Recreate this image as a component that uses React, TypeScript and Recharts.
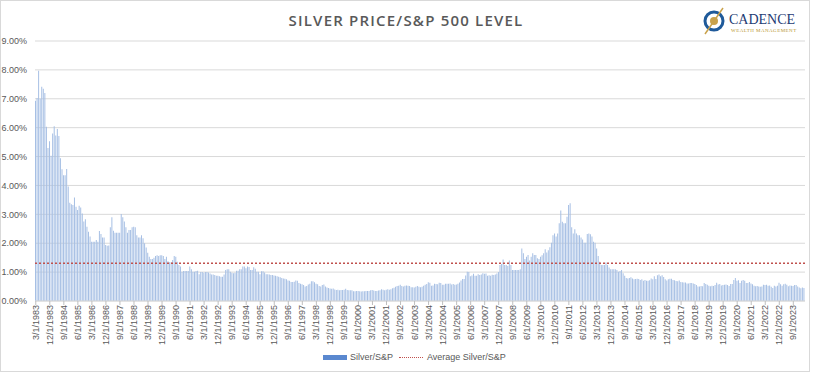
import React from 'react';
import { BarChart, Bar, XAxis, YAxis, CartesianGrid, ReferenceLine } from 'recharts';

const START_YEAR = 1983;
const START_MONTH = 3;

// Monthly Silver / S&P 500 ratio, in percent (Mar 1983 onward)
const ratio1980s = [
  6.93, 7.03, 7.97, 7.0, 7.42, 7.35, 7.2, 6.03, 5.3, 5.53,
  5.03, 5.8, 6.05, 5.73, 5.95, 5.71, 4.94, 4.56, 4.35, 4.35, 4.57, 3.96,
  3.4, 3.35, 3.32, 3.58, 3.26, 3.15, 3.3, 3.24, 3.03, 2.75, 2.83, 2.57,
  2.4, 2.23, 2.05, 2.05, 2.05, 2.11, 2.05, 2.42, 2.32, 2.2, 2.2, 1.94,
  1.91, 1.92, 2.55, 2.9, 2.43, 2.36, 2.36, 2.36, 2.36, 3.01, 2.9, 2.75,
  2.55, 2.36, 2.46, 2.46, 2.55, 2.57, 2.55, 2.28, 2.2, 2.2, 2.28, 2.17,
  2.0, 1.85, 1.67, 1.53, 1.45, 1.45, 1.5, 1.56, 1.58, 1.56, 1.58, 1.58,
];
const ratio1990s = [
  1.56, 1.45, 1.53, 1.38, 1.34, 1.34, 1.42, 1.56, 1.53, 1.36, 1.25, 1.19,
  1.01, 1.04, 1.04, 1.04, 1.04, 1.19, 1.1, 1.01, 1.01, 1.04, 1.05, 0.93,
  1.0, 1.0, 0.98, 1.0, 1.0, 0.99, 0.95, 0.92, 0.92, 0.9, 0.87, 0.87,
  0.86, 0.84, 0.84, 0.92, 1.07, 1.1, 1.1, 1.01, 0.98, 0.96, 0.98, 1.05,
  1.05, 1.1, 1.1, 1.19, 1.19, 1.13, 1.19, 1.18, 1.07, 1.07, 1.17, 1.12,
  1.01, 1.01, 0.93, 1.03, 1.03, 0.99, 0.93, 0.93, 0.92, 0.9, 0.9, 0.88,
  0.87, 0.86, 0.84, 0.82, 0.8, 0.78, 0.77, 0.75, 0.71, 0.7, 0.66, 0.66,
  0.67, 0.71, 0.7, 0.62, 0.6, 0.58, 0.55, 0.5, 0.52, 0.57, 0.6, 0.68,
  0.68, 0.65, 0.6, 0.58, 0.52, 0.5, 0.55, 0.57, 0.5, 0.47, 0.45, 0.43,
  0.42, 0.43, 0.4, 0.38, 0.39, 0.37, 0.38, 0.38, 0.39, 0.42, 0.38, 0.37,
];
const ratio2000s = [
  0.37, 0.37, 0.34, 0.34, 0.35, 0.35, 0.34, 0.33, 0.34, 0.34, 0.35, 0.35,
  0.35, 0.37, 0.38, 0.36, 0.35, 0.35, 0.36, 0.37, 0.41, 0.39, 0.37, 0.39,
  0.41, 0.39, 0.41, 0.44, 0.46, 0.49, 0.52, 0.53, 0.56, 0.52, 0.5, 0.53,
  0.54, 0.53, 0.52, 0.48, 0.48, 0.47, 0.49, 0.52, 0.49, 0.48, 0.49, 0.53,
  0.56, 0.59, 0.65, 0.63, 0.53, 0.54, 0.6, 0.59, 0.58, 0.63, 0.62, 0.56,
  0.56, 0.6, 0.6, 0.6, 0.61, 0.57, 0.59, 0.56, 0.57, 0.6, 0.64, 0.71,
  0.76, 0.76, 0.88, 1.01, 1.0, 0.86, 0.88, 0.94, 0.87, 0.87, 0.93, 0.9,
  0.92, 0.96, 0.94, 0.95, 0.87, 0.89, 0.87, 0.91, 0.9, 0.92, 0.95, 1.0,
  1.25, 1.28, 1.44, 1.25, 1.25, 1.21, 1.4, 1.25, 1.07, 1.07, 1.07, 1.07,
  1.07, 1.1, 1.82, 1.65, 1.45, 1.53, 1.59, 1.4, 1.53, 1.65, 1.59, 1.59,
];
const ratio2010s = [
  1.48, 1.45, 1.53, 1.58, 1.65, 1.79, 1.68, 1.76, 1.86, 2.02, 2.28, 2.34,
  2.23, 2.34, 2.69, 3.13, 2.74, 2.69, 2.69, 2.92, 3.32, 3.38, 2.55, 2.34,
  2.48, 2.34, 2.28, 2.28, 2.2, 2.13, 2.02, 2.02, 2.32, 2.34, 2.31, 2.23,
  2.05, 2.02, 1.82, 1.56, 1.36, 1.25, 1.25, 1.25, 1.33, 1.25, 1.16, 1.1,
  1.1, 1.1, 1.1, 1.07, 1.01, 1.04, 1.07, 0.96, 0.87, 0.8, 0.78, 0.8,
  0.82, 0.78, 0.75, 0.76, 0.77, 0.76, 0.73, 0.75, 0.7, 0.73, 0.7, 0.7,
  0.72, 0.78, 0.75, 0.86, 0.76, 0.89, 0.92, 0.86, 0.89, 0.83, 0.75, 0.71,
  0.75, 0.77, 0.77, 0.73, 0.72, 0.69, 0.68, 0.71, 0.66, 0.65, 0.64, 0.64,
  0.61, 0.61, 0.62, 0.62, 0.61, 0.59, 0.55, 0.5, 0.5, 0.52, 0.51, 0.62,
  0.59, 0.56, 0.53, 0.51, 0.53, 0.52, 0.55, 0.63, 0.57, 0.59, 0.54, 0.55,
];
const ratio2020s = [
  0.56, 0.57, 0.55, 0.52, 0.59, 0.59, 0.73, 0.8, 0.7, 0.72, 0.62, 0.7,
  0.73, 0.7, 0.62, 0.62, 0.66, 0.61, 0.58, 0.53, 0.51, 0.52, 0.5, 0.49,
  0.5, 0.56, 0.55, 0.56, 0.53, 0.54, 0.49, 0.45, 0.53, 0.5, 0.53, 0.63,
  0.58, 0.53, 0.58, 0.6, 0.56, 0.51, 0.54, 0.53, 0.52, 0.55, 0.55, 0.5,
  0.47, 0.44, 0.47, 0.45,
];

const silverSp = [...ratio1980s, ...ratio1990s, ...ratio2000s, ...ratio2010s, ...ratio2020s];
const AVERAGE = 1.31;
const yTicks = [0, 1, 2, 3, 4, 5, 6, 7, 8, 9];

const categories = silverSp.map((_, i) => {
  const m = START_MONTH - 1 + i;
  return `${(m % 12) + 1}/1/${START_YEAR + Math.floor(m / 12)}`;
});
const data = categories.map((date, i) => ({ date, value: silverSp[i] }));

const FONT = '"Liberation Sans Narrow", "Liberation Sans", Arial, sans-serif';
const GRAY = '#595959';

const XTick = (props: any) => {
  const { x, y, payload } = props;
  return (
    <text
      x={x}
      y={y}
      transform={`rotate(-90, ${x}, ${y})`}
      textAnchor="end"
      dy="0.33em"
      fontSize={9}
      fill={GRAY}
      fontFamily={FONT}
    >
      {payload.value}
    </text>
  );
};

export default function App() {
  return (
    <div style={{ position: 'absolute', left: 0, top: 0, width: 814, height: 373, background: '#fff', fontFamily: FONT }}>
      <div style={{ position: 'absolute', left: 0, top: 0, width: 810, height: 372, border: '1px solid #D9D9D9', boxSizing: 'border-box' }} />
      <div style={{ position: 'absolute', left: 0, top: 10, width: 812, textAlign: 'center', fontFamily: '"Open Sans", sans-serif', fontSize: 15, fontWeight: 600, letterSpacing: 1.2, color: GRAY, lineHeight: '20px' }}>
        SILVER PRICE/S&amp;P 500 LEVEL
      </div>
      <svg style={{ position: 'absolute', left: 0, top: 0 }} width={814} height={40}>
        <circle cx={714} cy={21} r={9} fill="none" stroke="#1F5A9A" strokeWidth={3} />
        <circle cx={714} cy={21} r={4} fill="#C9A24C" />
        <line x1={723} y1={8} x2={705} y2={34} stroke="#C9A24C" strokeWidth={1.5} />
        <text x={729} y={24} fontFamily='"Liberation Serif", serif' fontSize={14} fill="#1F3C74">CADENCE</text>
        <text x={731} y={32} fontFamily='"Liberation Serif", serif' fontSize={5} fill="#B8962E" letterSpacing={0.45}>WEALTH MANAGEMENT</text>
      </svg>
      <div style={{ position: 'absolute', left: 0, top: 0 }}>
        <BarChart width={814} height={373} data={data} margin={{ top: 41, right: 9, left: 0, bottom: 0 }} barCategoryGap={0}>
          <CartesianGrid vertical={false} stroke="#D9D9D9" />
          <XAxis
            dataKey="date"
            interval={8}
            height={72}
            tick={<XTick />}
            tickSize={4}
            tickMargin={0}
            axisLine={{ stroke: '#D9D9D9' }}
            tickLine={{ stroke: '#BFBFBF' }}
          />
          <YAxis
            domain={[0, 9]}
            ticks={yTicks}
            tickFormatter={(v: number) => `${v.toFixed(2)}%`}
            axisLine={false}
            tickLine={false}
            width={35}
            tick={{ fontSize: 9, fill: GRAY, fontFamily: FONT }}
          />
          <Bar dataKey="value" fill="#A6BFE4" barSize={1} isAnimationActive={false} />
          <ReferenceLine y={AVERAGE} stroke="#C0504D" strokeDasharray="2 2" strokeWidth={1.5} />
        </BarChart>
      </div>
      <div style={{ position: 'absolute', left: 323, top: 355, width: 24, height: 5, background: '#5A88CF' }} />
      <div style={{ position: 'absolute', left: 350, top: 351, fontSize: 9, color: GRAY, lineHeight: '12px' }}>Silver/S&amp;P</div>
      <div style={{ position: 'absolute', left: 399, top: 357, width: 24, height: 0, borderTop: '1.5px dotted #C0504D' }} />
      <div style={{ position: 'absolute', left: 427, top: 351, fontSize: 9, color: GRAY, lineHeight: '12px' }}>Average Silver/S&amp;P</div>
    </div>
  );
}
